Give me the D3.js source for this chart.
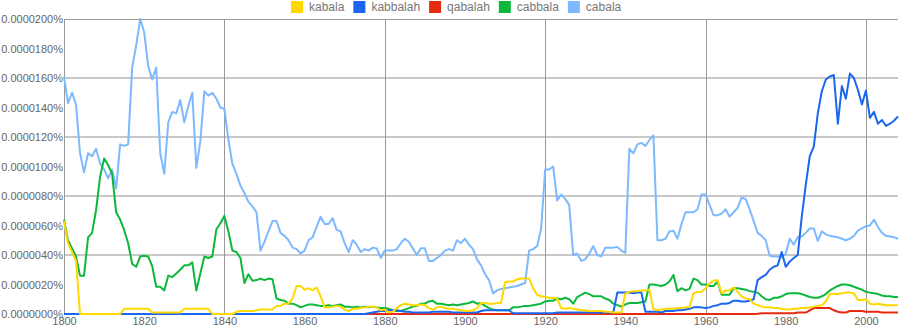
<!DOCTYPE html>
<html>
<head>
<meta charset="utf-8">
<script src="https://cdn.jsdelivr.net/npm/d3@7"></script>
<style>
    body { margin: 0; background: #fff; }
    text { font-family: "Liberation Sans", Arial, sans-serif; }
</style>
</head>
<body>
<div id="app"></div>
<script>
"use strict";

// yearly values, in units of 0.0000010 %
const years = d3.range(1800, 2009);

const kabala = [
    6.3,4.8,4.2,3.6,0,0,0,0,0,0,
    0,0,0,0,0,0.35,0.35,0.35,0.35,0.35,
    0.35,0.35,0.1,0.1,0.1,0.1,0.1,0.1,0.1,0.1,
    0.35,0.35,0.35,0.35,0.35,0.35,0.35,0,0,0,
    0,0,0,0.15,0.2,0.2,0.2,0.2,0.25,0.3,
    0.3,0.3,0.3,0.55,0.55,0.7,0.7,1.05,1.9,1.9,
    1.65,1.75,1.6,1.8,1.2,0.45,0.45,0.5,0.55,0.5,
    0.3,0.2,0.35,0.35,0.4,0.45,0.5,0.5,0.45,0.25,
    0.3,0.1,0.15,0.4,0.6,0.7,0.65,0.6,0.6,0.65,
    0.6,0.4,0.3,0.45,0.5,0.4,0.35,0.35,0.3,0.25,
    0.2,0.2,0.25,0.4,0.75,0.75,0.7,0.7,0.75,0.75,
    2.15,2.2,2.2,2.35,2.4,2.4,2.4,1.75,1.3,1.2,
    1.15,1.1,1.1,1.05,0.4,0.35,0.4,0.35,0.3,0.25,
    0.25,0.2,0.2,0.2,0.2,0.15,0.15,0.1,0.1,0.1,
    1.4,1.5,1.55,1.55,1.6,1.6,1.65,0.35,0.25,0.3,
    0.35,0.35,0.35,0.4,0.4,0.45,0.45,1.4,1.5,1.5,
    1.75,2.1,2.25,2.3,1.4,1.6,1.6,1.8,1.5,1.2,
    1.05,1.0,0.7,0.6,0.5,0.45,0.45,0.4,0.4,0.35,
    0.3,0.3,0.35,0.35,0.4,0.4,0.45,0.5,0.55,0.6,
    0.85,1.35,1.35,1.35,1.4,1.45,1.45,1.4,0.95,0.95,
    1.0,0.7,0.65,0.7,0.65,0.6,0.6,0.6,0.6
];

const kabbalah = [
    0,0,0,0,0,0,0,0,0,0,
    0,0,0,0,0,0,0,0,0,0,
    0,0,0,0,0,0,0,0,0,0,
    0,0,0,0,0,0,0,0,0,0,
    0,0,0,0,0,0,0,0,0,0,
    0,0,0,0,0,0,0,0,0,0,
    0,0,0,0,0,0,0,0,0,0,
    0,0,0,0,0,0,0.05,0.1,0.15,0.2,
    0.2,0.25,0.25,0.25,0.2,0.15,0.15,0.1,0.1,0.1,
    0.1,0.1,0.15,0.15,0.15,0.15,0.15,0.1,0.1,0.1,
    0.1,0.1,0.1,0.1,0.2,0.25,0.25,0.25,0.25,0.25,
    0.25,0.25,0.05,0.05,0.05,0.05,0.05,0.05,0.05,0.05,
    0.05,0.05,0.05,0.1,0.1,0.1,0.1,0.1,0.1,0.1,
    0.1,0.1,0.1,0.1,0.1,0.1,0.1,0.1,1.45,1.45,
    1.45,1.45,1.4,1.45,1.45,0.15,0.15,0.15,0.15,0.1,
    0.2,0.2,0.2,0.25,0.25,0.3,0.35,0.45,0.45,0.45,
    0.4,0.45,0.55,0.6,0.7,0.7,0.75,0.9,0.9,0.85,
    0.85,0.9,1.0,2.3,2.5,2.65,3.0,3.2,3.3,4.2,
    3.2,3.55,3.8,4.0,6.6,8.75,10.7,11.35,13.6,15.1,
    15.9,16.1,16.2,12.9,15.45,14.6,16.3,16.0,15.2,14.2,
    15.15,13.3,13.7,12.9,13.15,12.75,12.9,13.1,13.4
];

const qabalah = [
    0,0,0,0,0,0,0,0,0,0,
    0,0,0,0,0,0,0,0,0,0,
    0,0,0,0,0,0,0,0,0,0,
    0,0,0,0,0,0,0,0,0,0,
    0,0,0,0,0,0,0,0,0,0,
    0,0,0,0,0,0,0,0,0,0,
    0,0,0,0,0,0,0,0,0,0,
    0,0,0,0,0,0,0,0,0,0,
    0,0,0,0,0,0,0,0,0,0,
    0,0,0,0,0,0,0,0,0,0,
    0,0,0,0,0,0,0,0,0,0,
    0,0,0,0,0,0,0,0,0,0,
    0,0,0,0,0,0,0,0,0,0,
    0,0,0,0,0,0,0,0,0,0,
    0,0,0,0,0,0,0,0,0,0,
    0,0,0,0,0,0,0,0,0,0,
    0,0,0,0,0,0,0,0,0,0,
    0,0,0,0.02,0.05,0.05,0.05,0.05,0.05,0.05,
    0.05,0.05,0.05,0.1,0.1,0.1,0.25,0.4,0.4,0.4,
    0.4,0.4,0.25,0.15,0.1,0.1,0.2,0.2,0.2,0.2,
    0.15,0.15,0.15,0.15,0.1,0.1,0.1,0.1,0.1
];

const cabbala = [
    6.4,5.0,4.45,3.9,2.6,2.6,5.2,5.5,7.05,9.3,
    10.55,10.1,9.5,6.9,6.4,5.7,4.8,3.4,3.2,3.9,
    3.95,3.9,3.25,1.85,1.85,1.6,2.6,2.5,2.75,3.0,
    3.3,3.3,3.5,1.6,2.75,3.9,3.8,3.9,5.75,6.15,
    6.65,5.6,4.3,4.2,3.8,2.1,2.7,2.25,2.3,2.4,
    2.3,2.4,2.35,1.05,0.95,0.9,0.7,0.7,0.6,0.45,
    0.55,0.65,0.65,0.6,0.55,0.55,0.6,0.55,0.6,0.65,
    0.5,0.5,0.45,0.5,0.45,0.5,0.45,0.5,0.45,0.4,
    0.4,0.35,0.25,0.2,0.2,0.3,0.4,0.5,0.55,0.7,
    0.7,0.85,0.9,0.7,0.7,0.65,0.6,0.65,0.6,0.65,
    0.7,0.75,0.85,0.7,0.75,0.55,0.4,0.3,0.25,0.25,
    0.25,0.25,0.45,0.45,0.5,0.55,0.55,0.6,0.65,0.7,
    0.85,0.9,0.9,1.05,1.0,1.1,1.0,0.7,1.15,1.3,
    1.45,1.35,1.2,1.2,1.2,1.05,0.95,0.7,0.6,0.5,
    0.65,0.75,0.75,0.75,0.8,0.85,2.0,2.0,1.95,1.9,
    2.0,2.2,2.65,1.55,1.75,1.6,1.7,2.4,2.3,2.0,
    2.0,1.9,1.9,2.2,1.3,1.3,1.3,1.75,1.75,1.7,
    1.65,1.55,1.5,1.45,1.2,1.0,0.95,1.1,1.1,1.2,
    1.35,1.4,1.4,1.4,1.35,1.25,1.15,1.1,1.1,1.2,
    1.35,1.6,1.75,1.9,2.0,2.0,1.95,1.85,1.75,1.65,
    1.5,1.45,1.4,1.35,1.25,1.2,1.2,1.15,1.15
];

const cabala = [
    16.1,14.3,15.0,14.2,10.9,9.6,10.9,10.7,11.2,10.2,
    9.8,9.2,9.8,8.5,11.5,11.4,11.5,16.7,18.2,20.0,
    19.1,16.8,15.9,16.7,10.9,9.5,13.0,13.7,13.6,14.5,
    13.0,14.1,15.0,9.9,11.7,15.1,14.8,15.0,14.6,14.0,
    13.9,11.8,10.2,9.5,8.7,8.2,7.6,7.3,6.9,4.3,
    4.9,5.6,6.3,6.3,5.5,5.3,5.0,4.5,4.4,4.1,
    4.3,5.0,5.2,5.9,6.6,6.1,6.1,6.5,5.7,5.6,
    4.8,4.2,5.0,4.7,4.2,4.4,4.3,4.5,4.45,3.8,
    4.3,4.3,4.3,4.4,4.8,5.1,4.9,4.45,4.0,4.45,
    4.45,3.6,3.6,3.8,4.0,4.3,4.4,4.3,5.0,4.8,
    5.1,4.7,4.4,3.7,3.3,2.7,2.3,1.4,1.6,1.7,
    1.75,1.8,1.85,1.9,2.0,2.1,4.3,4.4,4.6,5.8,
    9.8,9.8,10.0,7.7,8.1,7.8,7.4,4.0,4.1,3.6,
    3.7,4.1,4.6,4.0,3.9,4.5,4.5,4.5,4.55,4.3,
    4.15,11.2,10.9,11.5,11.6,11.4,11.8,12.1,5.0,5.0,
    5.1,5.6,5.65,5.1,6.1,6.9,6.9,6.9,7.1,8.1,
    8.1,7.4,6.7,6.7,6.8,7.1,6.6,6.9,7.2,7.9,
    7.8,7.1,6.3,5.5,5.3,5.0,3.95,3.9,3.9,3.85,
    4.1,5.1,4.7,5.2,5.25,5.5,5.8,5.8,4.95,5.6,
    5.4,5.3,5.25,5.2,5.1,5.0,5.1,5.3,5.65,5.8,
    5.95,6.0,6.4,5.9,5.5,5.3,5.25,5.2,5.1
];

const seriesNames = ['kabala', 'kabbalah', 'qabalah', 'cabbala', 'cabala'];
const seriesValues = [kabala, kabbalah, qabalah, cabbala, cabala];
const seriesColors = ['#ffd800', '#1a66f0', '#e52a12', '#0cb83b', '#7db9ff'];

const yTicks = d3.range(0, 21, 2);
const yGrid = [4, 8, 12, 16];
const xTicks = d3.range(1800, 2001, 20);
const xGrid = [1840, 1880, 1920, 1960, 2000];

const width = 900;
const height = 330;
const margin = { top: 19, right: 2, bottom: 16, left: 64 };

/**
 * Builds the svg root
 */
const makeSvg = () => d3.select('#app')
    .append('svg')
    .attr('width', width)
    .attr('height', height);

/**
 * Draws the gridlines, axes and tick labels
 */
const drawAxes = (svg, x, y) => {
    const grid = svg.append('g');

    grid.selectAll('line.h')
        .data(yGrid)
        .join('line')
        .attr('x1', x.range()[0]).attr('x2', x.range()[1])
        .attr('y1', d => y(d)).attr('y2', d => y(d))
        .attr('stroke', '#c8c8c8')
        .attr('stroke-width', 2);

    grid.selectAll('line.v')
        .data(xGrid)
        .join('line')
        .attr('x1', d => Math.round(x(d)) + 0.5).attr('x2', d => Math.round(x(d)) + 0.5)
        .attr('y1', y.range()[1]).attr('y2', y.range()[0])
        .attr('stroke', '#999')
        .attr('stroke-width', 1);

    // frame: top and left
    grid.append('line')
        .attr('x1', x.range()[0]).attr('x2', x.range()[1])
        .attr('y1', y.range()[1] + 0.5).attr('y2', y.range()[1] + 0.5)
        .attr('stroke', '#999');
    grid.append('line')
        .attr('x1', x.range()[0] + 0.5).attr('x2', x.range()[0] + 0.5)
        .attr('y1', y.range()[1]).attr('y2', y.range()[0])
        .attr('stroke', '#999');

    const yAxis = svg.append('g')
        .attr('transform', `translate(${x.range()[0]},0)`)
        .call(d3.axisLeft(y)
            .tickValues(yTicks)
            .tickSize(0)
            .tickPadding(1)
            .tickFormat(d => (d / 1e6).toFixed(7) + '%'));
    yAxis.select('.domain').remove();
    yAxis.selectAll('text')
        .attr('fill', '#666')
        .style('font-size', '11px')
        .style('font-family', '"Liberation Sans", Arial, sans-serif');

    const xAxis = svg.append('g')
        .attr('transform', `translate(0,${y.range()[0]})`)
        .call(d3.axisBottom(x)
            .tickValues(xTicks)
            .tickSize(0)
            .tickPadding(3)
            .tickFormat(d3.format('d')));
    xAxis.select('.domain').remove();
    xAxis.selectAll('text')
        .attr('fill', '#666')
        .style('font-size', '11px')
        .style('font-family', '"Liberation Sans", Arial, sans-serif');
};

/**
 * Draws one line per series, last series at the bottom
 */
const drawLines = (svg, x, y) => {
    const line = d3.line()
        .x((d, i) => x(years[i]))
        .y(d => y(d));

    const order = d3.range(seriesNames.length).reverse();
    svg.append('g')
        .selectAll('path')
        .data(order)
        .join('path')
        .attr('d', i => line(seriesValues[i]))
        .attr('fill', 'none')
        .attr('stroke', i => seriesColors[i])
        .attr('stroke-width', 2)
        .attr('stroke-linejoin', 'round');
};

/**
 * Draws the legend on top of the chart
 */
const drawLegend = (svg) => {
    const legend = svg.append('g');
    let cx = 291;
    seriesNames.forEach((name, i) => {
        legend.append('rect')
            .attr('x', cx).attr('y', 1)
            .attr('width', 12).attr('height', 12)
            .attr('fill', seriesColors[i]);
        const t = legend.append('text')
            .attr('x', cx + 18).attr('y', 11)
            .attr('fill', '#777')
            .style('font-size', '12px')
            .text(name);
        cx += 18 + t.node().getComputedTextLength() + 9;
    });
};

const svg = makeSvg();
const x = d3.scaleLinear().domain([1800, 2008]).range([margin.left, width - margin.right]);
const y = d3.scaleLinear().domain([0, 20]).range([height - margin.bottom, margin.top]);

drawAxes(svg, x, y);
drawLines(svg, x, y);
drawLegend(svg);
</script>
</body>
</html>
